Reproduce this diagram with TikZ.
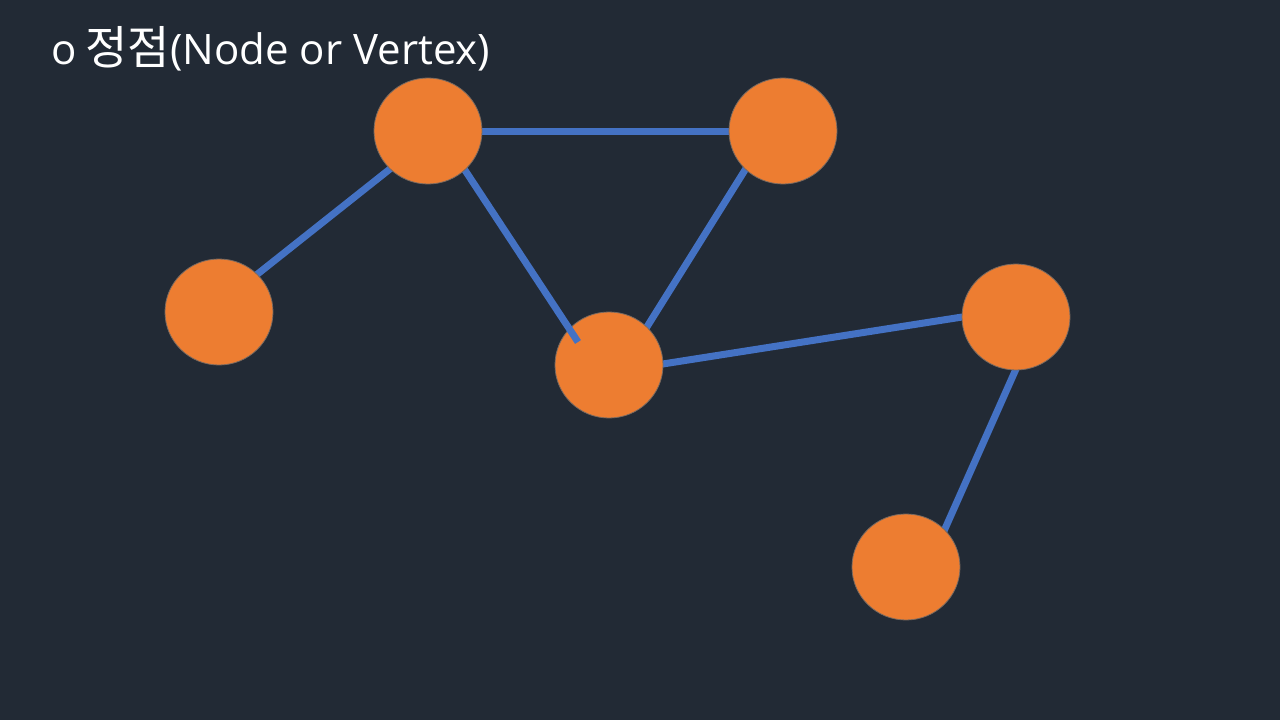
\documentclass[tikz,border=0pt]{standalone}
\usepackage{fontspec}
\usetikzlibrary{shapes.geometric}
\newfontfamily\kr{Noto Sans CJK KR}
\newfontfamily\os{Open Sans}
\definecolor{bg}{HTML}{222A35}
\definecolor{org}{HTML}{ED7D31}
\definecolor{blu}{HTML}{4472C4}
\definecolor{rim}{HTML}{7A6A60}
\begin{document}
\begin{tikzpicture}[x=1pt,y=-1pt,
  vert/.style={ellipse,fill=org,draw=rim,line width=0.8pt,minimum width=108pt,minimum height=106pt,inner sep=0pt},
  edge/.style={draw=blu,line width=7pt}]
\fill[bg] (0,0) rectangle (1280,720);
\useasboundingbox (0,0) rectangle (1280,720);
\node[anchor=base west,text=white,font=\fontsize{42}{48}\selectfont,inner sep=0pt] (title) at (51,64) {\os o\kern9pt{\kr\fontsize{46}{48}\selectfont 정점}(Node or Vertex)};
\coordinate (a) at (428,131);
\coordinate (b) at (783,131);
\coordinate (c) at (219,312);
\coordinate (d) at (609,365);
\coordinate (e) at (1016,317);
\coordinate (f) at (906,567);
% edge end points
\coordinate (ab1) at (470,131); \coordinate (ab2) at (740,131);
\coordinate (ac1) at (395,165); \coordinate (ac2) at (250,280);
\coordinate (ad1) at (455,155); \coordinate (ad2) at (578,342);
\coordinate (bd1) at (750,162); \coordinate (bd2) at (640,338);
\coordinate (de1) at (650,366); \coordinate (de2) at (975,315);
\coordinate (ef1) at (1020,360); \coordinate (ef2) at (940,540);
\draw[edge] (ab1) -- (ab2);
\draw[edge] (ac1) -- (ac2);
\draw[edge] (bd1) -- (bd2);
\draw[edge] (de1) -- (de2);
\draw[edge] (ef1) -- (ef2);
\node[vert] (nd) at (d) {};
\draw[edge] (ad1) -- (ad2);
\node[vert] (na) at (a) {};
\node[vert] (nb) at (b) {};
\node[vert] (nc) at (c) {};
\node[vert] (ne) at (e) {};
\node[vert] (nf) at (f) {};
\end{tikzpicture}
\end{document}
